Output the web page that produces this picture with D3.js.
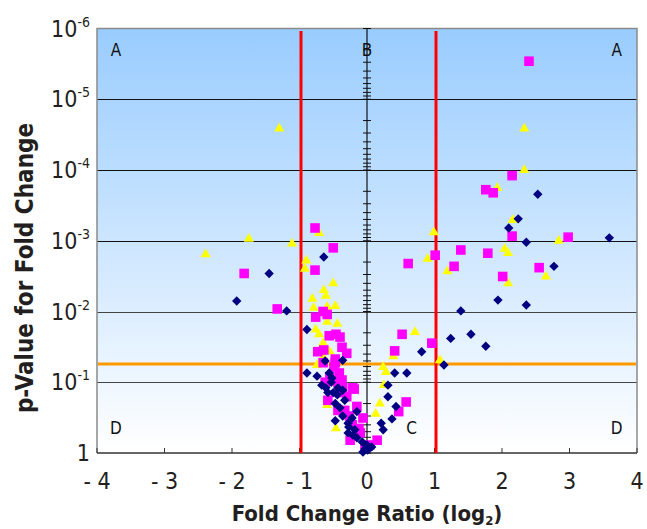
<!DOCTYPE html>
<html lang="en">
<head>
<meta charset="utf-8">
<style>
    body {
        margin: 0;
        padding: 0;
        background: #fff;
    }
    svg text {
        font-family: 'Liberation Sans Narrow', 'DejaVu Sans Condensed', 'Roboto', sans-serif;
        font-stretch: condensed;
        fill: #231f20;
    }
</style>
</head>
<body>
<script src="https://cdn.jsdelivr.net/npm/d3@7"></script>
<script>
// log2 fold change vs p-value, three probe sets
var xTicks = [-4, -3, -2, -1, 0, 1, 2, 3, 4];
var xTickLabels = ['- 4', '- 3', '- 2', '- 1', '0', '1', '2', '3', '4'];
var yExponents = [0, -1, -2, -3, -4, -5, -6];
var foldCutoffs = [-1, 1];
var pCutoff = 0.055;

var squares = [
    [2.40, 2.9e-6], [2.15, 1.2e-4], [1.76, 1.9e-4], [1.87, 2.1e-4], [2.15, 8.6e-4],
    [2.98, 8.9e-4], [1.01, 1.6e-3], [1.39, 1.35e-3], [1.79, 1.5e-3], [1.29, 2.3e-3],
    [2.55, 2.4e-3], [2.01, 3.2e-3], [0.96, 2.8e-2], [0.61, 2.1e-3], [0.52, 2.1e-2],
    [0.41, 3.6e-2], [0.58, 0.19], [0.47, 0.26], [-0.77, 6.6e-4], [-0.50, 1.26e-3],
    [-1.82, 2.9e-3], [-0.77, 2.6e-3], [-1.33, 9.2e-3], [-0.76, 1.2e-2], [-0.59, 1.1e-2],
    [-0.65, 1.0e-2], [-0.56, 2.2e-2], [-0.46, 2.1e-2], [-0.40, 2.3e-2], [-0.37, 3.2e-2],
    [-0.30, 3.9e-2], [-0.73, 3.7e-2], [-0.64, 3.5e-2], [-0.47, 4.7e-2], [-0.49, 6.1e-2],
    [-0.41, 7.4e-2], [-0.37, 9.3e-2], [-0.36, 0.12], [-0.19, 0.125], [-0.40, 0.14],
    [-0.65, 5.3e-2], [-0.55, 8.4e-2], [-0.43, 0.10], [-0.21, 0.12], [-0.30, 0.16],
    [-0.58, 0.18], [-0.15, 0.22], [-0.33, 0.25], [-0.06, 0.32], [-0.22, 0.40],
    [-0.10, 0.52], [0.15, 0.66], [0.04, 0.77], [-0.03, 0.85], [-0.47, 5.3e-2],
    [-0.43, 0.25], [-0.25, 0.66], [-0.62, 0.10], [-0.26, 0.30], [-0.12, 0.45]
];

var triangles = [
    [-1.30, 2.6e-5], [2.33, 2.6e-5], [2.33, 1.0e-4], [1.93, 1.8e-4], [-1.75, 9.4e-4],
    [-1.11, 1.1e-3], [-2.39, 1.55e-3], [-0.71, 7.8e-4], [-0.90, 1.9e-3], [-0.92, 2.5e-3],
    [-0.50, 4.0e-3], [-0.64, 5.0e-3], [-0.61, 6.0e-3], [-0.81, 6.6e-3], [-0.79, 8.9e-3],
    [-0.59, 8.6e-3], [-0.47, 8.4e-3], [-0.59, 1.4e-2], [-0.44, 1.5e-2], [-0.76, 1.8e-2],
    [-0.71, 2.1e-2], [-0.65, 2.8e-2], [-0.55, 3.7e-2], [-0.74, 5.7e-2], [0.24, 6.1e-2],
    [0.28, 7.2e-2], [0.39, 4.3e-2], [0.71, 1.95e-2], [0.90, 1.8e-3], [0.99, 7.6e-4],
    [1.19, 2.7e-3], [2.16, 5.1e-4], [2.04, 1.3e-3], [2.09, 1.5e-3], [2.09, 4.0e-3],
    [2.65, 3.2e-3], [2.84, 1.0e-3], [1.08, 4.9e-2], [0.25, 0.11], [0.19, 0.20],
    [0.13, 0.28], [-0.46, 0.45], [-0.59, 0.21], [-0.55, 0.10], [-0.61, 5.3e-2],
    [-0.65, 4.4e-2]
];

var diamonds = [
    [2.53, 2.2e-4], [2.24, 4.9e-4], [2.10, 6.6e-4], [2.36, 1.05e-3], [3.59, 9.1e-4],
    [2.77, 2.3e-3], [1.94, 6.9e-3], [2.36, 8.1e-3], [1.39, 9.8e-3], [1.24, 2.4e-2],
    [1.54, 2.1e-2], [1.76, 3.1e-2], [1.14, 5.7e-2], [-0.64, 1.7e-3], [-1.45, 2.9e-3],
    [-1.93, 7.1e-3], [-1.19, 9.8e-3], [-0.89, 1.8e-2], [0.81, 3.7e-2], [-0.62, 5.0e-2],
    [-0.36, 4.9e-2], [-0.89, 7.4e-2], [-0.74, 8.2e-2], [-0.56, 7.4e-2], [-0.52, 8.7e-2],
    [0.41, 7.4e-2], [0.59, 7.4e-2], [0.31, 0.11], [-0.58, 0.14], [-0.36, 0.13],
    [-0.50, 0.14], [0.31, 0.16], [0.43, 0.22], [0.37, 0.33], [0.21, 0.38],
    [0.24, 0.47], [-0.44, 0.15], [-0.47, 0.20], [-0.33, 0.18], [-0.47, 0.35],
    [-0.36, 0.30], [-0.28, 0.38], [-0.28, 0.52], [-0.18, 0.47], [-0.27, 0.43],
    [-0.15, 0.61], [-0.07, 0.70], [0.00, 0.77], [0.01, 0.91], [0.07, 0.82],
    [-0.06, 0.97], [-0.03, 0.88], [-0.15, 0.26], [-0.21, 0.56], [-0.67, 0.11],
    [-0.61, 0.12], [-0.43, 0.12], [-0.40, 0.23], [-0.22, 0.32], [-0.53, 0.10]
];

(function () {
    var width = 647, height = 529;
    var pLeft = 97, pRight = 637, pTop = 28.5, pBottom = 453;

    var svg = d3.select('body').append('svg')
        .attr('width', width)
        .attr('height', height);

    var x = d3.scaleLinear().domain([-4, 4]).range([pLeft, pRight]);
    var y = d3.scaleLog().domain([1, 1e-6]).range([pBottom, pTop]);

    // blue wash behind the plot
    var grad = svg.append('defs').append('linearGradient')
        .attr('id', 'bg')
        .attr('x1', 0).attr('y1', 0).attr('x2', 0).attr('y2', 1);
    grad.append('stop').attr('offset', '0%').attr('stop-color', '#99ccff');
    grad.append('stop').attr('offset', '100%').attr('stop-color', '#ffffff');

    svg.append('rect')
        .attr('x', pLeft).attr('y', pTop)
        .attr('width', pRight - pLeft).attr('height', pBottom - pTop)
        .attr('fill', 'url(#bg)');

    // decade grid lines
    svg.selectAll('line.grid')
        .data(yExponents.filter(function (e) { return e < 0 && e > -6; }))
        .enter().append('line')
        .attr('class', 'grid')
        .attr('x1', pLeft).attr('x2', pRight)
        .attr('y1', function (e) { return Math.round(y(Math.pow(10, e))) + 0.5; })
        .attr('y2', function (e) { return Math.round(y(Math.pow(10, e))) + 0.5; })
        .attr('stroke', function (e) { return e > -3 ? '#444' : '#111'; })
        .attr('stroke-width', 1.2);

    // plot frame
    svg.append('path')
        .attr('d', 'M' + pLeft + ',' + pBottom + 'V' + pTop + 'H' + pRight + 'V' + pBottom)
        .attr('fill', 'none')
        .attr('stroke', '#8a8a8a')
        .attr('stroke-width', 1.5);
    svg.append('line')
        .attr('x1', pLeft).attr('x2', pRight)
        .attr('y1', pBottom).attr('y2', pBottom)
        .attr('stroke', '#333').attr('stroke-width', 1.5);

    // x ticks at bottom (pointing up)
    svg.selectAll('line.xtick')
        .data(xTicks)
        .enter().append('line')
        .attr('class', 'xtick')
        .attr('x1', function (d) { return x(d); })
        .attr('x2', function (d) { return x(d); })
        .attr('y1', pBottom).attr('y2', pBottom - 5)
        .attr('stroke', '#333');

    // central y axis with log ticks
    var minor = [];
    for (var e = 0; e > -6; e--) {
        for (var m = 1; m < 10; m++) minor.push(m * Math.pow(10, e - 1));
    }
    minor.push(1);
    svg.append('line')
        .attr('x1', x(0)).attr('x2', x(0))
        .attr('y1', pTop).attr('y2', pBottom)
        .attr('stroke', '#111').attr('stroke-width', 1.2);
    svg.selectAll('line.mtick')
        .data(minor)
        .enter().append('line')
        .attr('class', 'mtick')
        .attr('x1', x(0) - 4).attr('x2', x(0) + 4)
        .attr('y1', function (d) { return y(d); })
        .attr('y2', function (d) { return y(d); })
        .attr('stroke', '#111').attr('stroke-width', 1);

    // cutoffs
    svg.append('line')
        .attr('x1', pLeft + 1).attr('x2', pRight - 1)
        .attr('y1', y(pCutoff)).attr('y2', y(pCutoff))
        .attr('stroke', '#ff9900').attr('stroke-width', 3);

    svg.selectAll('line.fold')
        .data(foldCutoffs)
        .enter().append('line')
        .attr('class', 'fold')
        .attr('x1', function (d) { return x(d) + 1.5; })
        .attr('x2', function (d) { return x(d) + 1.5; })
        .attr('y1', pTop + 2.5).attr('y2', pBottom)
        .attr('stroke', '#ff0000').attr('stroke-width', 3);

    // points
    var plot = svg.append('g');
    plot.selectAll('path.tri')
        .data(triangles)
        .enter().append('path')
        .attr('class', 'tri')
        .attr('d', d3.symbol().type(d3.symbolTriangle).size(44))
        .attr('transform', function (d) { return 'translate(' + x(d[0]) + ',' + y(d[1]) + ')'; })
        .attr('fill', '#ffff00');

    plot.selectAll('path.sq')
        .data(squares)
        .enter().append('path')
        .attr('class', 'sq')
        .attr('d', d3.symbol().type(d3.symbolSquare).size(92))
        .attr('transform', function (d) { return 'translate(' + x(d[0]) + ',' + y(d[1]) + ')'; })
        .attr('fill', '#ff00ff');

    plot.selectAll('path.dia')
        .data(diamonds)
        .enter().append('path')
        .attr('class', 'dia')
        .attr('d', d3.symbol().type(d3.symbolSquare).size(44))
        .attr('transform', function (d) { return 'translate(' + x(d[0]) + ',' + y(d[1]) + ') rotate(45)'; })
        .attr('fill', '#000080');

    // region letters
    var regions = [
        ['A', -3.72, 2e-6], ['A', 3.7, 2e-6], ['B', 0, 2e-6],
        ['C', 0.66, 0.44], ['D', -3.72, 0.44], ['D', 3.7, 0.44]
    ];
    svg.selectAll('text.region')
        .data(regions)
        .enter().append('text')
        .attr('class', 'region')
        .attr('x', function (d) { return x(d[1]); })
        .attr('y', function (d) { return y(d[2]) + 6; })
        .attr('text-anchor', 'middle')
        .style('font-size', '17px')
        .style('fill', '#111')
        .text(function (d) { return d[0]; });

    // y tick labels (10^e)
    var yl = svg.selectAll('text.ylab')
        .data(yExponents)
        .enter().append('text')
        .attr('class', 'ylab')
        .attr('x', 90)
        .attr('y', function (e) { return y(Math.pow(10, e)) + 8; })
        .attr('text-anchor', 'end')
        .style('font-size', '23px');
    yl.each(function (e) {
        var t = d3.select(this);
        if (e === 0) {
            t.text('1');
        } else {
            t.append('tspan').text('10');
            t.append('tspan').attr('dy', -10).style('font-size', '14px').text(String(e));
        }
    });

    // x tick labels
    svg.selectAll('text.xlab')
        .data(xTicks)
        .enter().append('text')
        .attr('class', 'xlab')
        .attr('x', function (d) { return x(d); })
        .attr('y', 489)
        .attr('text-anchor', 'middle')
        .style('font-size', '23px')
        .text(function (d, i) { return xTickLabels[i]; });

    // axis titles
    svg.append('text')
        .attr('transform', 'translate(33,268) rotate(-90)')
        .attr('text-anchor', 'middle')
        .style('font-size', '24px')
        .style('font-weight', 'bold')
        .text('p-Value for Fold Change');

    var xt = svg.append('text')
        .attr('x', 367).attr('y', 521)
        .attr('text-anchor', 'middle')
        .style('font-size', '22px')
        .style('font-weight', 'bold');
    xt.append('tspan').text('Fold Change Ratio (log');
    xt.append('tspan').attr('dy', 4).style('font-size', '13px').text('2');
    xt.append('tspan').attr('dy', -4).text(')');
})();
</script>
</body>
</html>
